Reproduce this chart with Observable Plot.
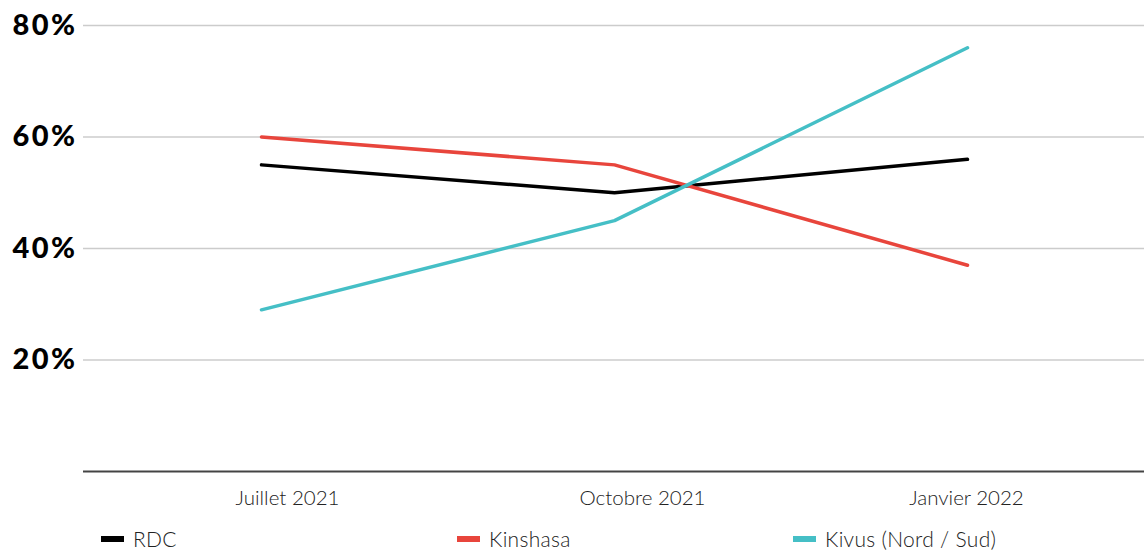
<!DOCTYPE html>
<html><head><meta charset="utf-8">
<script src="https://cdn.jsdelivr.net/npm/d3@7"></script>
<script src="https://cdn.jsdelivr.net/npm/@observablehq/plot@0.6"></script>
<style>
body{margin:0;background:#fff;font-family:Lato,sans-serif;}
#legend{position:relative;height:37px;width:1144px;}
.item{position:absolute;top:11px;display:flex;align-items:center;font-family:Lato;font-weight:300;font-size:21px;color:#222;letter-spacing:0.3px;}
.sw{display:inline-block;width:23px;height:6px;margin-right:9px;}
g[aria-label="y-axis tick label"] text{letter-spacing:2.5px;}
</style></head>
<body>
<div id="chart"></div>
<div id="legend"></div>
<script>
const periods = ["Juillet 2021", "Octobre 2021", "Janvier 2022"];
const series = ["RDC", "Kinshasa", "Kivus (Nord / Sud)"];
const colors = ["#000000", "#e8453c", "#45bfc6"];
const rdc = [55, 50, 56];
const kinshasa = [60, 55, 37];
const kivus = [29, 45, 76];
const yTicks = [20, 40, 60, 80];

const values = [rdc, kinshasa, kivus];
const data = [];
series.forEach((s, i) => periods.forEach((p, j) => data.push({serie: s, period: p, value: values[i][j]})));

const labelOffsets = [26, 28, -1];
const xAxisStyle = {tickSize: 0, tickPadding: 19, fontSize: 20.5, fontWeight: 300, fill: "#222", label: null};

const plot = Plot.plot({
  width: 1144, height: 515,
  marginLeft: 83, marginRight: 0, marginTop: 25, marginBottom: 44,
  x: {type: "point", domain: periods, padding: 0.5, label: null},
  y: {domain: [0, 80], label: null},
  color: {domain: series, range: colors},
  marks: [
    Plot.gridY(yTicks, {stroke: "#cccccc", strokeOpacity: 1, strokeWidth: 1.5}),
    Plot.ruleY([0], {stroke: "#444", strokeWidth: 2}),
    Plot.axisY(yTicks, {tickFormat: d => d + "%", tickSize: 0, tickPadding: 6, fontSize: 29, fontWeight: 900, fill: "#000", label: null}),
    ...periods.map((p, i) => Plot.axisX([p], {...xAxisStyle, dx: labelOffsets[i]})),
    Plot.line(data, {x: "period", y: "value", z: "serie", stroke: "serie", strokeWidth: 3.5})
  ],
  style: {fontFamily: "Lato"}
});
document.getElementById("chart").appendChild(plot);

const lefts = [101, 457, 793];
const legend = document.getElementById("legend");
series.forEach((s, i) => {
  const it = document.createElement("div");
  it.className = "item";
  it.style.left = lefts[i] + "px";
  it.innerHTML = `<span class="sw" style="background:${colors[i]}"></span>${s}`;
  legend.appendChild(it);
});
</script>
</body></html>
